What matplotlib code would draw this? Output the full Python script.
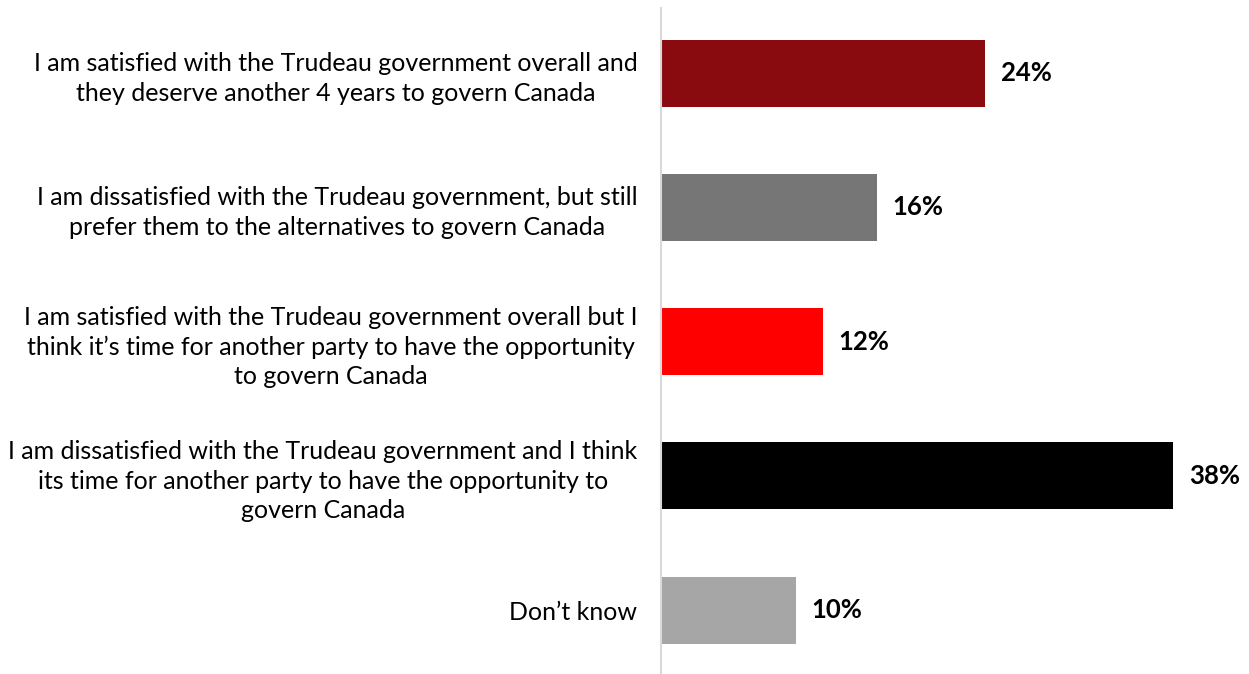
import matplotlib.pyplot as plt
import numpy as np

categories = [
    "I am satisfied with the Trudeau government overall and\nthey deserve another 4 years to govern Canada",
    "I am dissatisfied with the Trudeau government, but still\nprefer them to the alternatives to govern Canada",
    "I am satisfied with the Trudeau government overall but I\nthink it\u2019s time for another party to have the opportunity\nto govern Canada",
    "I am dissatisfied with the Trudeau government and I think\nits time for another party to have the opportunity to\ngovern Canada",
    "Don\u2019t know",
]
values = [24, 16, 12, 38, 10]
bar_colors = ['#890B10', '#767676', '#FF0000', '#000000', '#A6A6A6']

plt.rcParams['font.family'] = ['Lato', 'DejaVu Sans']

fig = plt.figure(figsize=(12.49, 6.74), dpi=100)
ax = fig.add_axes([661 / 1249, -3.2 / 674, (1249 - 661) / 1249, 671.25 / 674])

y = np.arange(len(values))
ax.barh(y, values, height=0.5, color=bar_colors)

for i, v in enumerate(values):
    ax.annotate('{0}%'.format(v), xy=(v, i), xytext=(11.5, 0), textcoords='offset points',
                va='center', ha='left', fontsize=18.5, fontweight='bold', color='black')

ax.set_ylim(len(values) - 0.5, -0.5)
ax.set_xlim(0, 43.6)
ax.set_yticks(y)
ax.set_yticklabels(categories, fontsize=18, multialignment='center', linespacing=1.35)
ax.tick_params(axis='y', length=0, pad=17)
ax.set_xticks([])

for s in ['top', 'right', 'bottom']:
    ax.spines[s].set_visible(False)
ax.spines['left'].set_color('#D9D9D9')
ax.spines['left'].set_linewidth(1.5)
ax.spines['left'].set_bounds(-0.484, 4.477)

fig.savefig('out.png', dpi=100)
